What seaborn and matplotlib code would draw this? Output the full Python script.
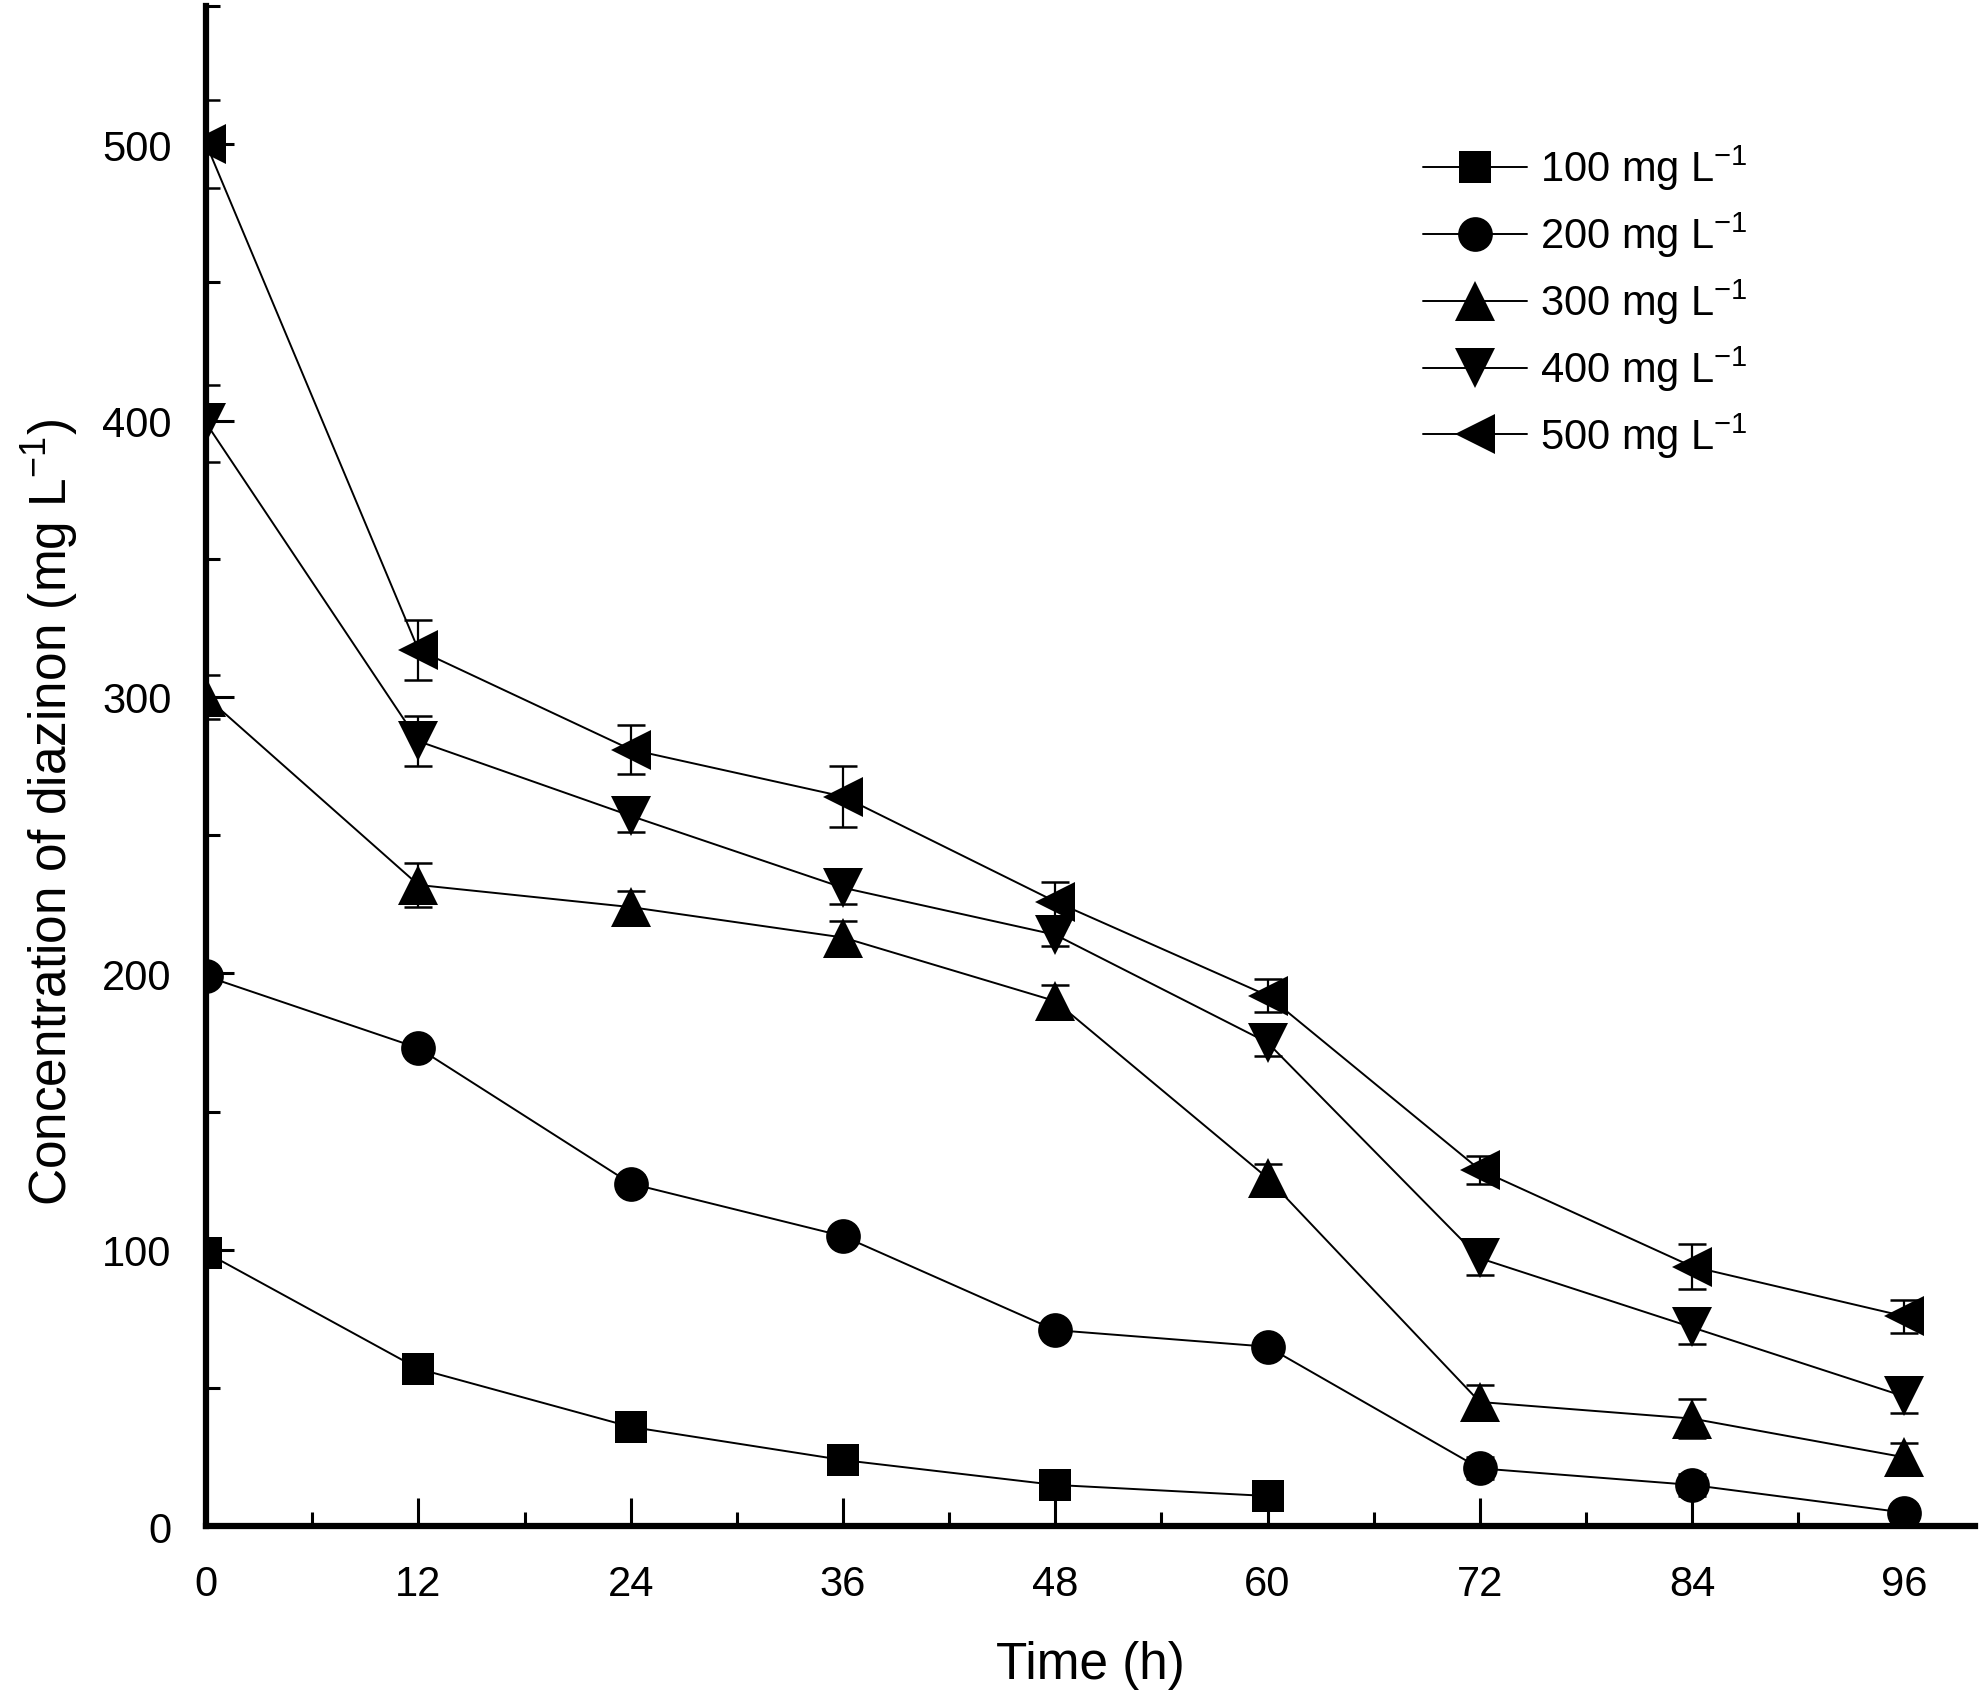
import numpy as np
import pandas as pd
import matplotlib
matplotlib.use("Agg")
import matplotlib.pyplot as plt
import seaborn as sns
from matplotlib.ticker import MultipleLocator

# DATA
time_h = [0, 12, 24, 36, 48, 60, 72, 84, 96]

conc_100 = [99, 57, 36, 24, 15, 11]
err_100 = [2, 2, 2, 2, 2, 2]

conc_200 = [199, 173, 124, 105, 71, 65, 21, 15, 5]
err_200 = [2, 3, 3, 3, 3, 3, 4, 4, 3]

conc_300 = [300, 232, 224, 213, 190, 126, 45, 39, 25]
err_300 = [8, 8, 6, 6, 6, 5, 6, 7, 5]

conc_400 = [399, 284, 257, 231, 214, 175, 97, 72, 47]
err_400 = [14, 9, 6, 6, 4, 5, 6, 6, 6]

conc_500 = [500, 317, 281, 264, 226, 192, 129, 94, 76]
err_500 = [16, 11, 9, 11, 7, 6, 5, 8, 6]

labels = ["100 mg L$^{-1}$", "200 mg L$^{-1}$", "300 mg L$^{-1}$",
          "400 mg L$^{-1}$", "500 mg L$^{-1}$"]

# PLOTTING
sns.set_style("ticks")
plt.rcParams["font.family"] = ["Liberation Sans", "DejaVu Sans"]
plt.rcParams["mathtext.default"] = "regular"
plt.rcParams["text.color"] = "black"
plt.rcParams["axes.labelcolor"] = "black"
plt.rcParams["xtick.color"] = "black"
plt.rcParams["ytick.color"] = "black"

fig = plt.figure(figsize=(19.83, 16.99), dpi=100)
ax = fig.add_axes([0.104, 0.101, 0.892, 0.895])

series = [
    (conc_100, err_100, "s", 23),
    (conc_200, err_200, "o", 25),
    (conc_300, err_300, "^", 29),
    (conc_400, err_400, "v", 29),
    (conc_500, err_500, "<", 29),
]

for (conc, err, marker, ms), label in zip(series, labels):
    t = time_h[:len(conc)]
    ax.errorbar(t, conc, yerr=err, fmt="none", ecolor="black",
                elinewidth=1.6, capsize=10, capthick=1.8, zorder=2)
    sns.lineplot(x=t, y=conc, ax=ax, color="black", lw=1.4,
                 marker=marker, markersize=ms, markeredgewidth=0,
                 label=label, zorder=3)

ax.set_xlim(0, 100)
ax.set_ylim(0, 550)
ax.xaxis.set_major_locator(MultipleLocator(12))
ax.xaxis.set_minor_locator(MultipleLocator(6))
ax.yaxis.set_major_locator(MultipleLocator(100))
ax.yaxis.set_minor_locator(MultipleLocator(50))

ax.tick_params(which="major", direction="in", length=20, width=2.2,
               labelsize=30, color="black", labelcolor="black")
ax.tick_params(which="minor", direction="in", length=10, width=2.2,
               color="black")
ax.tick_params(axis="x", which="major", pad=27)
ax.tick_params(axis="y", which="major", pad=25)

for side in ["top", "right"]:
    ax.spines[side].set_visible(False)
for side in ["left", "bottom"]:
    ax.spines[side].set_linewidth(4.5)
    ax.spines[side].set_color("black")

ax.set_xlabel("Time (h)", fontsize=37, color="black")
ax.set_ylabel("Concentration of diazinon (mg L$^{-1}$)", fontsize=37, color="black")
ax.xaxis.set_label_coords(0.5, -0.075)
ax.yaxis.set_label_coords(-0.071, 0.47)

ax.legend(loc="upper left", bbox_to_anchor=(1423 / 1983, 1 - 144 / 1699),
          bbox_transform=fig.transFigure, frameon=False, fontsize=30,
          handlelength=2.5, handletextpad=0.3, labelspacing=0.42,
          borderpad=0, borderaxespad=0)

plt.savefig("out.png", dpi=100)
